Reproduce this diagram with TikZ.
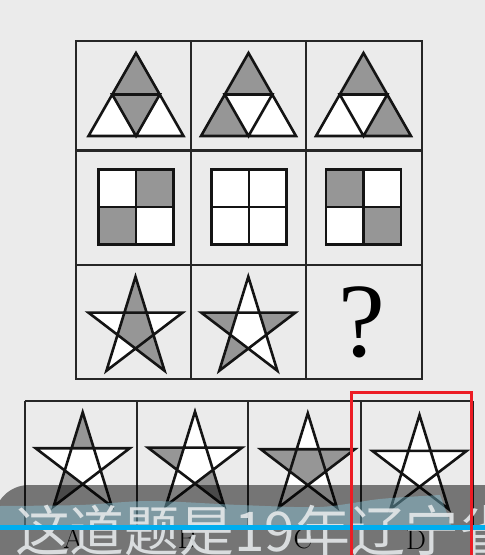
\documentclass[tikz,border=0pt]{standalone}
\usepackage{fontspec}
\newfontfamily\cjk{Noto Sans CJK SC}
\newfontfamily\qfont{Liberation Serif}
\usepackage{tikz}
\definecolor{bg}{RGB}{235,235,235}
\definecolor{hatch}{RGB}{150,150,150}
\definecolor{ink}{RGB}{20,20,20}
\definecolor{gridgray}{RGB}{38,38,38}
\definecolor{markred}{RGB}{236,28,36}
\definecolor{subblue}{RGB}{0,174,239}
\definecolor{subteal}{RGB}{140,205,225}
\definecolor{subtext}{RGB}{228,232,234}

% star centre x, centre y, shaded parts (1..5 = points from the top clockwise, 0 = middle)
\newcommand{\pentagram}[3]{%
\begin{scope}[shift={(#1,#2)},xscale=49.6,yscale=52]
\foreach \k in {1,...,5} {\coordinate (o\k) at (-162+72*\k:1); \coordinate (i\k) at (-126+72*\k:0.382);}
\coordinate (i0) at (i5);
\fill[white] (o1)--(i1)--(o2)--(i2)--(o3)--(i3)--(o4)--(i4)--(o5)--(i5)--cycle;
\if\relax\detokenize{#3}\relax\else
\foreach \k [evaluate=\k as \j using int(\k-1)] in {#3} {%
\ifnum\k=0 \fill[dark] (i1)--(i2)--(i3)--(i4)--(i5)--cycle;
\else \fill[dark] (o\k)--(i\j)--(i\k)--cycle; \fi}
\fi
\draw[fig] (o1)--(o3)--(o5)--(o2)--(o4)--cycle;
\end{scope}}

\begin{document}
\begin{tikzpicture}[x=0.5mm,y=-0.5mm,frame/.style={draw=gridgray,line width=2.9pt},fig/.style={draw=ink,line width=3.7pt},dark/.style={fill=hatch},lbl/.style={font=\fontsize{40}{40}\selectfont,inner sep=0pt}]
\useasboundingbox (0,0) rectangle (485,555);
\clip (0,0) rectangle (485,555);
\fill[bg] (0,0) rectangle (485,555);

% question grid
\draw[frame] (76,41) rectangle (422,379);
\draw[frame] (191,41)--(191,379) (306,41)--(306,379) (76,150.5)--(422,150.5) (76,265)--(422,265);

% row 1: triangles
\foreach \cx/\a/\b/\c in {136/ml/mr/mb,248.5/ml/bl/mb,363.5/mr/br/mb} {
\begin{scope}[shift={(\cx,0)}]
\coordinate (ap) at (0,53); \coordinate (bl) at (-47.5,136); \coordinate (br) at (47.5,136);
\coordinate (ml) at (-23.75,94.5); \coordinate (mr) at (23.75,94.5); \coordinate (mb) at (0,136);
\fill[white] (ap)--(bl)--(br)--cycle;
\fill[dark] (ap)--(ml)--(mr)--cycle;
\fill[dark] (\a)--(\b)--(\c)--cycle;
\draw[fig] (ap)--(bl)--(br)--cycle (ml)--(mr)--(mb)--cycle;
\end{scope}}

% row 2: squares
\foreach \cx in {135.8,248.9,363.4} {\fill[white] (\cx-37.5,169.5) rectangle (\cx+37.5,244.5);}
\foreach \cx/\ax/\ay/\bx/\by in {135.8/0/-37.5/-37.5/0,363.4/-37.5/-37.5/0/0} {
\fill[dark] (\cx+\ax,207+\ay) rectangle ++(37.5,37.5);
\fill[dark] (\cx+\bx,207+\by) rectangle ++(37.5,37.5);}
\foreach \cx in {135.8,248.9,363.4} {
\draw[fig] (\cx-37.5,169.5) rectangle (\cx+37.5,244.5) (\cx,169.5)--(\cx,244.5) (\cx-37.5,207)--(\cx+37.5,207);}

% row 3: stars and the blank
\pentagram{135.5}{328.7}{1,0,3}
\pentagram{248.3}{328.7}{5,2,4}
\node[font=\qfont\fontsize{150}{150}\selectfont,inner sep=0pt] (ask) at (361.5,322) {?};

% answer options
\draw[frame] (25,401)--(473,401) (25,527)--(473,527);
\foreach \x in {25,137.3,248.3,361,473} {\draw[frame] (\x,401)--(\x,527);}
\pentagram{82.7}{464.3}{1,4}
\pentagram{195}{463.7}{5,3}
\pentagram{307.8}{465.3}{5,0,2}
\pentagram{419.5}{467}{}
\node[lbl] (optA) at (73,539) {A};
\node[lbl] (optB) at (187,539) {B};
\node[lbl] (optC) at (303,539) {C};
\node[lbl] (optD) at (416,540) {D};

% subtitle bar
\fill[black,fill opacity=0.5,rounded corners=17.5mm] (-6,640)--(-6,485)--(640,485)--(640,640)--cycle;
\fill[subteal,fill opacity=0.42] plot[smooth] coordinates {(0,506) (80,505) (150,501) (240,505) (320,507) (380,499) (440,495)} -- (452,527) -- (0,527) -- cycle;
\node[anchor=base west,inner sep=0pt,font=\cjk\fontsize{78}{78}\selectfont,text=subtext,text opacity=0.9] (caption) at (15,551) {这道题是19年辽宁省};
\fill[subblue] (0,525) rectangle (485,530);

% marked answer
\draw[markred,line width=4pt] (351.7,392.3) rectangle (471.7,580);
\end{tikzpicture}
\end{document}
